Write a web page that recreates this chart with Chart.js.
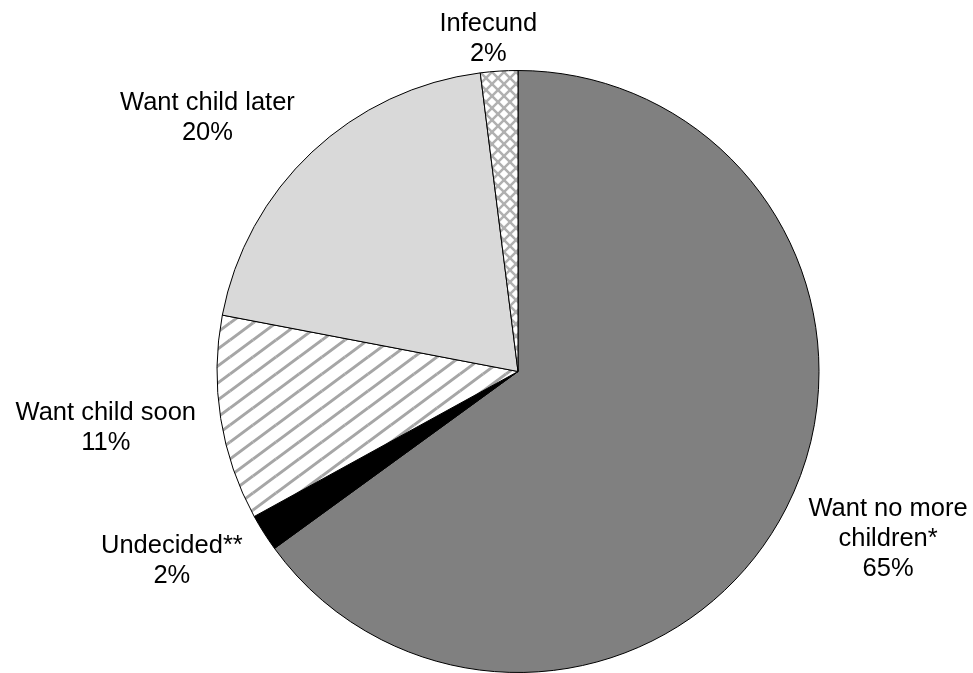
<!DOCTYPE html>
<html>
<head>
<meta charset="utf-8">
<script src="https://cdn.jsdelivr.net/npm/chart.js@4.4.1/dist/chart.umd.min.js"></script>
<style>
  html, body { margin: 0; padding: 0; background: #ffffff; }
  #wrap { width: 973px; height: 673px; position: relative; }
</style>
</head>
<body>
<div id="wrap"><canvas id="c"></canvas></div>
<script>
// ---- data ----
const categories = [
  ['Want no more', 'children*'],
  ['Undecided**'],
  ['Want child soon'],
  ['Want child later'],
  ['Infecund']
];
const values = [65, 2, 11, 20, 2];

// ---- patterns ----
function diagPattern() {
  const w = 23, h = 17;
  const c = document.createElement('canvas');
  c.width = w; c.height = h;
  const g = c.getContext('2d');
  g.fillStyle = '#ffffff';
  g.fillRect(0, 0, w, h);
  g.strokeStyle = '#a6a6a6';
  g.lineWidth = 3;
  for (const [dx, dy] of [[0,0],[-w,0],[w,0],[0,-h],[0,h]]) {
    g.beginPath();
    g.moveTo(dx, h + dy);
    g.lineTo(w + dx, dy);
    g.stroke();
  }
  return g.createPattern(c, 'repeat');
}
function crossPattern() {
  const s = 12;
  const c = document.createElement('canvas');
  c.width = s; c.height = s;
  const g = c.getContext('2d');
  g.fillStyle = '#ffffff';
  g.fillRect(0, 0, s, s);
  g.strokeStyle = '#b0b0b0';
  g.lineWidth = 2.5;
  for (const [dx, dy] of [[0,0],[-s,0],[s,0],[0,-s],[0,s]]) {
    g.beginPath(); g.moveTo(dx, dy); g.lineTo(s + dx, s + dy); g.stroke();
    g.beginPath(); g.moveTo(dx, s + dy); g.lineTo(s + dx, dy); g.stroke();
  }
  return g.createPattern(c, 'repeat');
}

const fills = ['#808080', '#000000', diagPattern(), '#d9d9d9', crossPattern()];

// ---- outside labels plugin ----
const outsideLabels = {
  id: 'outsideLabels',
  afterDraw(chart, args, opts) {
    const ctx = chart.ctx;
    const meta = chart.getDatasetMeta(0);
    const font = opts.fontSize + 'px "Liberation Sans", Arial, sans-serif';
    ctx.save();
    ctx.font = font;
    ctx.fillStyle = '#000000';
    ctx.textAlign = 'center';
    ctx.textBaseline = 'alphabetic';
    const total = values.reduce((a, b) => a + b, 0);
    meta.data.forEach((arc, i) => {
      const lines = categories[i].concat([Math.round(values[i] / total * 100) + '%']);
      const a = (arc.startAngle + arc.endAngle) / 2;
      const dx = Math.cos(a), dy = Math.sin(a);
      const px = arc.x + dx * (arc.outerRadius + opts.gap);
      const py = arc.y + dy * (arc.outerRadius + opts.gap);
      let w = 0;
      lines.forEach(l => { w = Math.max(w, ctx.measureText(l).width); });
      const capH = opts.fontSize * 0.716;
      const h = capH + (lines.length - 1) * opts.lineHeight;
      const fx = Math.max(-1, Math.min(1, dx * 3));
      const cx = px + fx * w / 2;
      let cy = py + dy * h / 2;
      let top = cy - h / 2;
      if (top < opts.minTop) top = opts.minTop;
      lines.forEach((l, k) => {
        ctx.fillText(l, cx, top + capH + k * opts.lineHeight);
      });
    });
    ctx.restore();
  }
};

new Chart(document.getElementById('c'), {
  type: 'pie',
  data: {
    labels: categories.map(l => l.join(' ')),
    datasets: [{
      data: values,
      backgroundColor: fills,
      borderColor: '#000000',
      borderWidth: 1
    }]
  },
  options: {
    responsive: true,
    maintainAspectRatio: false,
    animation: false,
    layout: { padding: { left: 216.5, right: 153.5, top: 70, bottom: 0 } },
    plugins: {
      legend: { display: false },
      tooltip: { enabled: false },
      outsideLabels: { fontSize: 25.5, lineHeight: 30, gap: 25, minTop: 13 }
    }
  },
  plugins: [outsideLabels]
});
</script>
</body>
</html>
